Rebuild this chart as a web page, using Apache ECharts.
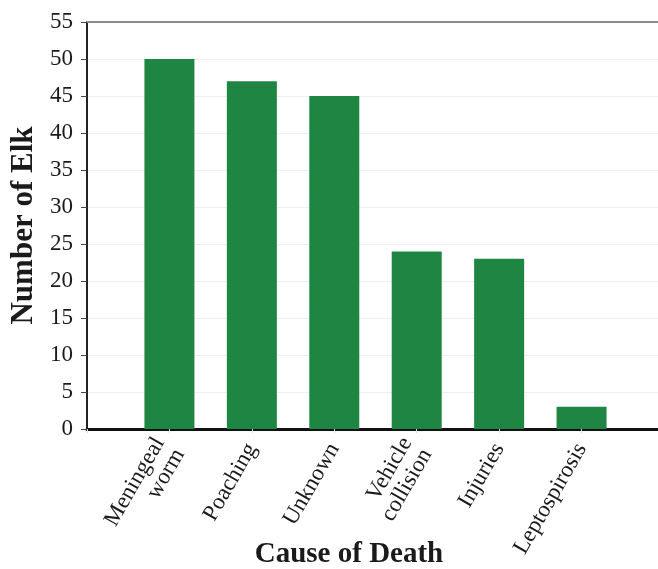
<!DOCTYPE html>
<html>
<head>
<meta charset="utf-8">
<script src="https://cdn.jsdelivr.net/npm/echarts@6/dist/echarts.min.js"></script>
<style>
html,body{margin:0;padding:0;background:#fff;}
#chart{width:658px;height:569px;}
</style>
</head>
<body>
<div id="chart"></div>
<script>
// Data
var categories = ['Meningeal\nworm', 'Poaching', 'Unknown', 'Vehicle\ncollision', 'Injuries', 'Leptospirosis'];
var values = [50, 47, 45, 24, 23, 3];
var yTicks = [0, 5, 10, 15, 20, 25, 30, 35, 40, 45, 50, 55];
var xTitle = 'Cause of Death';
var yTitle = 'Number of Elk';

// padded category list so bars sit at axis points with an empty slot each side
var axisCats = [''].concat(categories, ['']);
var axisVals = [null].concat(values, [null]);

var FONT = 'Liberation Serif';
var TXT = '#1a1a1a';
var chart = echarts.init(document.getElementById('chart'), null, {renderer: 'canvas'});
chart.setOption({
  animation: false,
  backgroundColor: '#ffffff',
  grid: {left: 87, top: 22, right: -6, bottom: 140, containLabel: false, outerBoundsMode: 'none'},
  xAxis: [{
    type: 'category',
    data: axisCats,
    boundaryGap: false,
    axisLine: {show: true, lineStyle: {color: '#111', width: 3}},
    axisTick: {show: true, length: 4, lineStyle: {color: '#ddd', width: 1}},
    axisLabel: {
      rotate: 60, fontFamily: FONT, fontSize: 23, color: TXT,
      lineHeight: 23, margin: 16, interval: 0
    },
    splitLine: {show: false}
  }, {
    type: 'category',
    position: 'top',
    data: axisCats,
    boundaryGap: false,
    axisLine: {show: true, lineStyle: {color: '#8a8a8a', width: 2}},
    axisTick: {show: false},
    axisLabel: {show: false}
  }],
  yAxis: {
    type: 'value',
    min: yTicks[0],
    max: yTicks[yTicks.length - 1],
    interval: yTicks[1] - yTicks[0],
    name: yTitle,
    nameLocation: 'middle',
    nameGap: 48,
    nameRotate: 90,
    nameTextStyle: {fontFamily: FONT, fontSize: 31, fontWeight: 'bold', color: TXT},
    axisLine: {show: true, lineStyle: {color: '#222', width: 2}},
    axisTick: {show: true, length: 6, lineStyle: {color: '#444', width: 1}},
    axisLabel: {fontFamily: FONT, fontSize: 23, color: TXT, margin: 14},
    splitLine: {show: true, lineStyle: {color: '#eeeeee', width: 1}}
  },
  graphic: [{
    type: 'text',
    x: 349, y: 555,
    style: {
      text: xTitle, fontFamily: FONT, fontSize: 29, fontWeight: 'bold',
      fill: TXT, textAlign: 'center', textVerticalAlign: 'middle'
    }
  }],
  series: [{
    type: 'bar',
    data: axisVals,
    barWidth: 50,
    itemStyle: {color: '#1f8542'},
    xAxisIndex: 0
  }]
});
</script>
</body>
</html>
